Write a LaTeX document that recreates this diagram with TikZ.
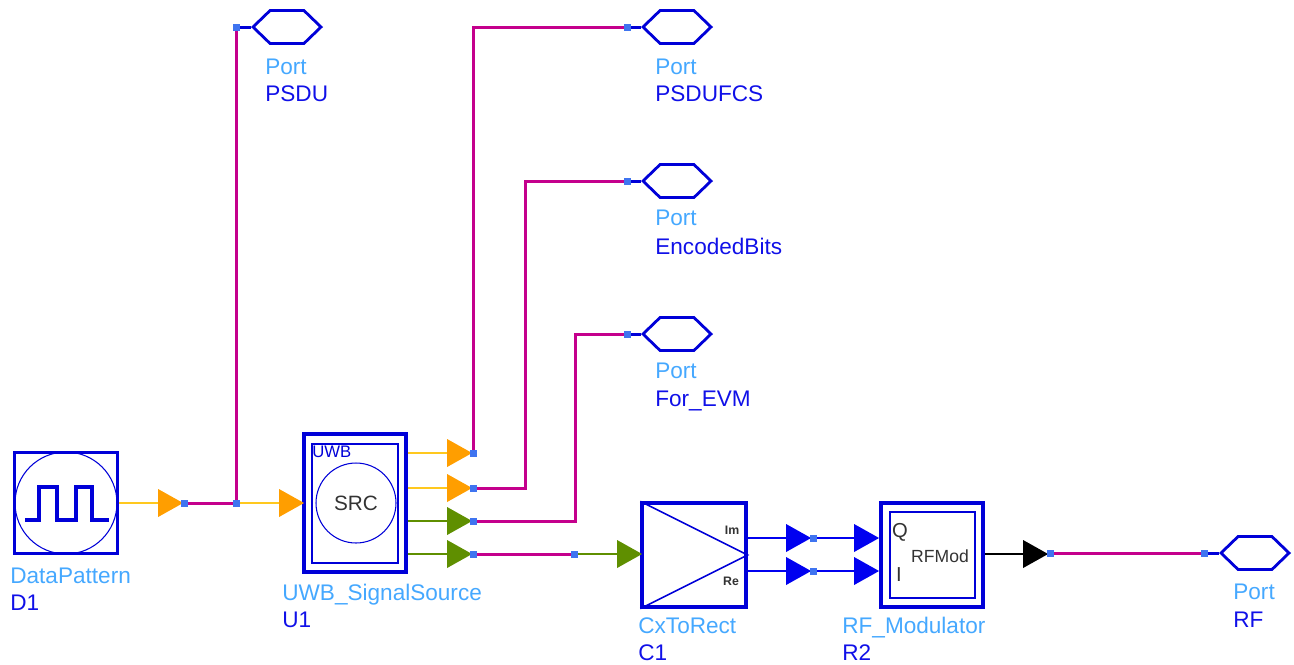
\documentclass[tikz,border=0pt]{standalone}
\usepackage{fontspec}
\setmainfont{Liberation Sans}
\usetikzlibrary{positioning, backgrounds, shapes.geometric, shapes.symbols}
\definecolor{adsblue}{HTML}{0000D8}
\definecolor{wireblue}{HTML}{0000F0}
\definecolor{labelsky}{HTML}{45A8FF}
\definecolor{labeldeep}{HTML}{1010E8}
\definecolor{dotblue}{HTML}{3F74F0}
\definecolor{busmagenta}{HTML}{C4008C}
\definecolor{pinorange}{HTML}{FF9E00}
\definecolor{wireyellow}{HTML}{FFC81E}
\definecolor{pingreen}{HTML}{5F8F00}
\begin{document}
\begin{tikzpicture}[
  x=0.02cm, y=-0.02cm,
  block/.style={draw=adsblue, line width=1.9pt, fill=white, inner sep=0pt},
  inbox/.style={draw=adsblue, line width=0.8pt, inner sep=0pt},
  ring/.style={draw=adsblue, line width=0.6pt, circle, inner sep=0pt},
  pin/.style={isosceles triangle, isosceles triangle stretches,
    shape border rotate=0, minimum width=0.56cm, minimum height=0.5cm,
    inner sep=0pt, anchor=apex},
  dot/.style={fill=dotblue, minimum size=0.14cm, inner sep=0pt},
  bus/.style={draw=busmagenta, line width=1.7pt},
  thin wire/.style={line width=0.85pt},
  stub/.style={draw=adsblue, line width=1.7pt},
  port/.style={draw=adsblue, line width=1.6pt, signal, signal to=west and east,
    signal pointer angle=88, minimum width=1.36cm, minimum height=0.66cm,
    inner sep=0pt, inner xsep=0pt},
  kind/.style={text=labelsky, anchor=west, inner sep=0pt, text height=9pt, text depth=0pt,
    font=\fontsize{12.85}{14}\selectfont},
  inst/.style={text=labeldeep, anchor=west, inner sep=0pt, text height=9pt, text depth=0pt,
    font=\fontsize{12.85}{14}\selectfont},
  glyph/.style={inner sep=0pt, text=black!80}
]
  \useasboundingbox (0,0) rectangle (1294,664);

  % Blocks
  \node[block, minimum width=2.06cm, minimum height=2.02cm] (D1) at (66,503) {};
  \node[ring, minimum size=2.04cm] (D1ring) at (66,503) {};
  \draw[draw=adsblue, line width=1.8pt] (25,520) -- (39,520) -- (39,487) -- (57,487)
    -- (57,520) -- (76,520) -- (76,487) -- (92,487) -- (92,520) -- (109,520);

  \node[block, minimum width=2.04cm, minimum height=2.76cm] (U1) at (355,503) {};
  \node[inbox, minimum width=1.72cm, minimum height=2.38cm] (U1in) at (355,503.5) {};
  \node[ring, minimum size=1.6cm, font=\fontsize{11.8}{14}\selectfont, text=black!80] (U1ring) at (356,503) {SRC};
  \node[anchor=west, inner sep=0pt, text=adsblue, font=\fontsize{9.5}{10}\selectfont] (U1tag) at (312,452) {UWB};

  \node[block, minimum width=2.08cm, minimum height=2.08cm] (C1) at (694,555) {};
  \draw[draw=adsblue, line width=0.9pt] (C1.north west) -- (C1.east) -- (C1.south west);
  \node[glyph, font=\bfseries\fontsize{7}{8}\selectfont] (C1im) at (732,530) {Im};
  \node[glyph, font=\bfseries\fontsize{7}{8}\selectfont] (C1re) at (731,581) {Re};

  \node[block, minimum width=2.04cm, minimum height=2.08cm] (R2) at (932,555) {};
  \node[inbox, minimum width=1.7cm, minimum height=1.72cm] (R2in) at (932.5,555) {};
  \node[glyph, font=\fontsize{11.5}{13}\selectfont] (R2q) at (900,532) {Q};
  \node[glyph, font=\fontsize{11.5}{13}\selectfont] (R2i) at (899,575) {I};
  \node[glyph, font=\fontsize{10}{12}\selectfont] (R2mod) at (940,556) {RFMod};

  % Pins
  \foreach \name/\col/\x/\y in {pinD/pinorange/184/503, pinU/pinorange/305/503,
    pinA/pinorange/473/453, pinB/pinorange/473/488, pinC/pingreen/473/521,
    pinE/pingreen/473/554, pinF/pingreen/643/554, pinG/wireblue/812/538,
    pinH/wireblue/812/571, pinJ/wireblue/880/538, pinK/wireblue/880/571,
    pinL/black/1049/554} {
    \node[pin, fill=\col] (\name) at (\x,\y) {};
  }

  % Dots
  \foreach \name/\x/\y in {dotD/184/503, dotS/236.4/503, dotA/473/453, dotB/473/488,
    dotC/473/521, dotE/473/554, dotF/574/554, dotG/813/538, dotH/813/571,
    dotL/1050/553, dotP/236.4/27, dotQ/627/27, dotR/627/181, dotT/627/334, dotV/1204/553} {
    \node[dot] (\name) at (\x,\y) {};
  }

  % Ports
  \foreach \name/\x/\y/\ya/\yb/\lab in {portP/287/27/67/94/PSDU, portQ/677/27/67/94/PSDUFCS,
    portR/677/181/218/247/EncodedBits, portT/677/334/371/399/For\_EVM, portV/1255/553/592/620/RF} {
    \node[port] (\name) at (\x,\y) {};
    \node[kind] (\name kind) at (\x-22,\ya) {Port};
    \node[inst] (\name inst) at (\x-22,\yb) {\lab};
  }

  % Labels
  \node[kind] (D1kind) at (10,576) {DataPattern};
  \node[inst] (D1inst) at (10,603) {D1};
  \node[kind] (U1kind) at (282,593) {UWB\_SignalSource};
  \node[inst] (U1inst) at (282,620) {U1};
  \node[kind] (C1kind) at (638,626) {CxToRect};
  \node[inst] (C1inst) at (638,653) {C1};
  \node[kind] (R2kind) at (842,626) {RF\_Modulator};
  \node[inst] (R2inst) at (842,653) {R2};

  % Wires
  \begin{scope}[on background layer]
    \draw[bus] (dotD.center) -- (dotS.center);
    \draw[bus] (dotS.center) -- (dotP.center);
    \draw[bus] (dotA.center) |- (dotQ.center);
    \draw[bus] (dotB.center) -- ++(52,0) |- (dotR.center);
    \draw[bus] (dotC.center) -- ++(102,0) |- (dotT.center);
    \draw[bus] (dotE.center) -- (dotF.center);
    \draw[bus] (dotL.center) -- (dotV.center);

    \draw[thin wire, wireyellow] (D1.east) -- (pinD.west);
    \draw[thin wire, wireyellow] (dotS.center) -- (pinU.west);
    \draw[thin wire, wireyellow] (U1.east |- pinA.west) -- (pinA.west);
    \draw[thin wire, wireyellow] (U1.east |- pinB.west) -- (pinB.west);
    \draw[thin wire, pingreen] (U1.east |- pinC.west) -- (pinC.west);
    \draw[thin wire, pingreen] (U1.east |- pinE.west) -- (pinE.west);
    \draw[thin wire, pingreen] (dotF.center) -- (pinF.west);
    \draw[thin wire, wireblue] (C1.east |- pinG.west) -- (pinG.west);
    \draw[thin wire, wireblue] (C1.east |- pinH.west) -- (pinH.west);
    \draw[thin wire, wireblue] (dotG.center) -- (pinJ.west);
    \draw[thin wire, wireblue] (dotH.center) -- (pinK.west);
    \draw[thin wire, black] (R2.east |- pinL.west) -- (pinL.west);

    \draw[stub] (dotP.center) -- (portP.west);
    \draw[stub] (dotQ.center) -- (portQ.west);
    \draw[stub] (dotR.center) -- (portR.west);
    \draw[stub] (dotT.center) -- (portT.west);
    \draw[stub] (dotV.center) -- (portV.west);
  \end{scope}
\end{tikzpicture}
\end{document}
